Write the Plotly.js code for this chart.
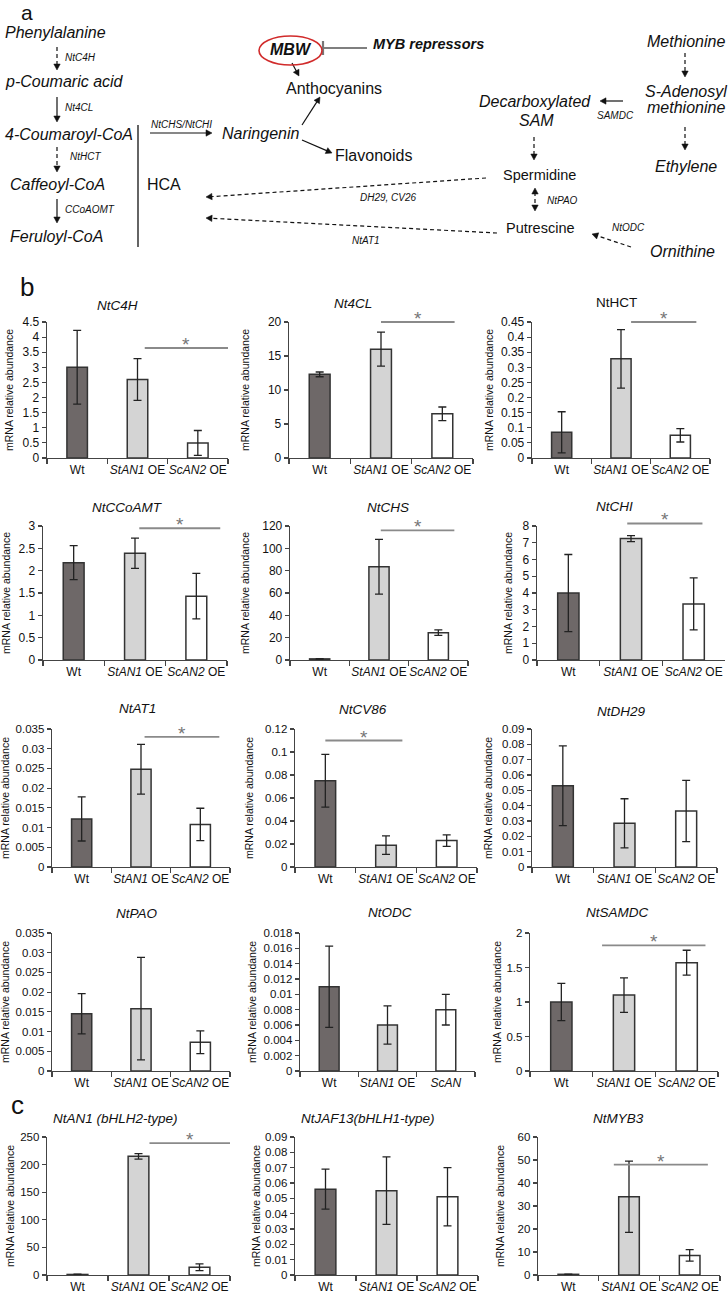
<!DOCTYPE html>
<html>
<head>
<meta charset="utf-8">
<script src="https://cdn.plot.ly/plotly-3.0.1.min.js"></script>
<style>html,body{margin:0;padding:0;background:#fff}</style>
</head>
<body>
<div id="chart" style="width:728px;height:1300px"></div>
<script>
// ---------- DATA ----------
const groups    = ['Wt', '<i>StAN1</i> OE', '<i>ScAN2</i> OE'];
const groupsODC = ['Wt', '<i>StAN1</i> OE', '<i>ScAN</i>'];

const genes = ['NtC4H','Nt4CL','NtHCT','NtCCoAMT','NtCHS','NtCHI','NtAT1','NtCV86','NtDH29',
               'NtPAO','NtODC','NtSAMDC','NtAN1 (bHLH2-type)','NtJAF13(bHLH1-type)','NtMYB3'];

const C4H_mean = [3.0, 2.6, 0.5],        C4H_err = [1.22, 0.69, 0.41];
const C4L_mean = [12.3, 16.0, 6.5],      C4L_err = [0.35, 2.5, 1.0];
const HCT_mean = [0.085, 0.328, 0.075],  HCT_err = [0.068, 0.097, 0.022];
const CCoAOMT_mean = [2.18, 2.39, 1.43], CCoAOMT_err = [0.38, 0.34, 0.51];
const CHS_mean = [1.0, 83.5, 24.5],      CHS_err = [0.3, 24.5, 2.5];
const CHI_mean = [4.0, 7.25, 3.35],      CHI_err = [2.3, 0.18, 1.55];
const AT1_mean = [0.0122, 0.0248, 0.0108], AT1_err = [0.0056, 0.0063, 0.0041];
const CV86_mean = [0.075, 0.019, 0.023], CV86_err = [0.023, 0.008, 0.005];
const DH29_mean = [0.053, 0.0285, 0.0365], DH29_err = [0.026, 0.016, 0.020];
const PAO_mean = [0.0145, 0.0158, 0.0073], PAO_err = [0.0051, 0.013, 0.0029];
const ODC_mean = [0.011, 0.006, 0.008],  ODC_err = [0.0053, 0.0025, 0.002];
const SAMDC_mean = [1.0, 1.1, 1.57],     SAMDC_err = [0.27, 0.25, 0.18];
const AN1_mean = [1.0, 215, 14],         AN1_err = [0.5, 5, 6];
const JAF13_mean = [0.056, 0.055, 0.051], JAF13_err = [0.013, 0.022, 0.019];
const MYB3_mean = [0.3, 34, 8.5],        MYB3_err = [0.1, 15.5, 2.5];

const allMeans = [C4H_mean,C4L_mean,HCT_mean,CCoAOMT_mean,CHS_mean,CHI_mean,AT1_mean,CV86_mean,DH29_mean,
                  PAO_mean,ODC_mean,SAMDC_mean,AN1_mean,JAF13_mean,MYB3_mean];
const allErrs  = [C4H_err,C4L_err,HCT_err,CCoAOMT_err,CHS_err,CHI_err,AT1_err,CV86_err,DH29_err,
                  PAO_err,ODC_err,SAMDC_err,AN1_err,JAF13_err,MYB3_err];

// axis scales (tick labels)
const yMax  = [4.5, 20, 0.45, 3, 120, 8, 0.035, 0.12, 0.09, 0.035, 0.018, 2, 250, 0.09, 60];
const yStep = [0.5, 5, 0.05, 0.5, 20, 1, 0.005, 0.02, 0.01, 0.005, 0.002, 0.5, 50, 0.01, 10];

// significance markers: chart index and bar level
const sigChart = [0, 1, 2, 3, 4, 5, 6, 7, 11, 12, 14];
const sigLevel = [3.64, 20, 0.45, 2.95, 116, 8.15, 0.033, 0.11, 1.82, 239, 48];

// ---------- LAYOUT HELPERS ----------
const W = 728, H = 1300;
const X = p => p / W, Y = p => 1 - p / H;
const FONT = 'Liberation Sans, Arial, sans-serif';

const rowsY = [[322,458],[526,660],[729,867],[933,1071],[1137,1275]];
const colsX = [
  [[47,228],[289,473],[532,710]],
  [[43,227],[290,468],[537,725]],
  [[52,230],[295,477],[532,717]],
  [[52,230],[300,475],[530,718]],
  [[47,230],[295,478],[538,720]]
];
const yTitleX = [9,245,489, 6,245,508, 5,249,488, 5,252,497, 10,256,500];
const titlePos = [[117,305],[353,303],[616,302],[127,507],[388,507],[614,506],[137,708],[363,709],[621,711],
                  [137,913],[390,912],[617,912],[115,1118],[368,1118],[618,1118]];
// significance line spans, in category units
const sigSpan = [[1.12,2.5],[1.0,2.2],[1.17,2.27],[1.07,2.39],[1.03,2.27],[0.94,2.14],[1.06,2.32],[0,1.27],
                 [0.65,2.3],[1.18,2.5],[0.75,2.3]];

const barColors = ['#6e6868', '#d4d4d4', '#ffffff'];

const data = [];
const layout = {
  width: W, height: H, margin: {l:0, r:0, t:0, b:0},
  paper_bgcolor: '#fff', plot_bgcolor: '#fff', showlegend: false,
  font: {family: FONT, color: '#111'},
  annotations: [], shapes: []
};

for (let i = 0; i < 15; i++) {
  const r = Math.floor(i / 3), c = i % 3;
  const id = i === 0 ? '' : String(i + 1);
  const cats = (i === 10) ? groupsODC : groups;
  const tickSize = r < 2 ? 12 : 11.5;
  data.push({
    type: 'bar', x: cats, y: allMeans[i], xaxis: 'x' + id, yaxis: 'y' + id,
    width: 0.34,
    marker: {color: barColors, line: {color: '#333', width: 1.5}},
    error_y: {type: 'data', array: allErrs[i], visible: true, color: '#222', thickness: 1.3, width: 4},
    hoverinfo: 'skip'
  });
  layout['xaxis' + id] = {
    domain: [X(colsX[r][c][0]), X(colsX[r][c][1])], anchor: 'y' + id,
    type: 'category', range: [-0.5, 2.5], tickson: 'boundaries', tickangle: 0,
    ticks: 'outside', ticklen: 5, tickcolor: '#444', tickwidth: 1.2,
    showline: true, linecolor: '#444', linewidth: 1.3, showgrid: false, zeroline: false,
    tickfont: {size: 12, family: FONT, color: '#111'}, fixedrange: true
  };
  layout['yaxis' + id] = {
    domain: [Y(rowsY[r][1]), Y(rowsY[r][0])], anchor: 'x' + id,
    range: [0, yMax[i]], tick0: 0, dtick: yStep[i],
    ticks: 'outside', ticklen: 4, tickcolor: '#444', tickwidth: 1.2,
    showline: true, linecolor: '#444', linewidth: 1.3, showgrid: false, zeroline: false,
    tickfont: {size: tickSize, family: FONT, color: '#111'}, fixedrange: true
  };
  layout.annotations.push({
    xref: 'paper', yref: 'paper', x: X(yTitleX[i]), y: Y((rowsY[r][0] + rowsY[r][1]) / 2),
    text: 'mRNA relative abundance', textangle: -90, showarrow: false,
    font: {size: 10.5, family: FONT, color: '#111'}, xanchor: 'center', yanchor: 'middle'
  });
  const ttl = (i === 2) ? genes[i] : '<i>' + genes[i] + '</i>';
  layout.annotations.push({
    xref: 'paper', yref: 'paper', x: X(titlePos[i][0]), y: Y(titlePos[i][1]),
    text: ttl, showarrow: false, font: {size: 13.5, family: FONT, color: '#111'},
    xanchor: 'center', yanchor: 'middle'
  });
}

// significance bars (axis-domain refs, so they are not clipped above the top tick)
sigChart.forEach((ci, k) => {
  const id = ci === 0 ? '' : String(ci + 1);
  const [a, b] = sigSpan[k];
  const fx = v => (v + 0.5) / 3;
  const fy = sigLevel[k] / yMax[ci];
  layout.shapes.push({type: 'line', xref: 'x' + id + ' domain', yref: 'y' + id + ' domain',
    x0: fx(a), x1: fx(b), y0: fy, y1: fy, line: {color: '#8a8a8a', width: 1.8}});
  layout.annotations.push({xref: 'x' + id + ' domain', yref: 'y' + id + ' domain', x: fx((a + b) / 2), y: fy,
    text: '*', showarrow: false, font: {size: 19, family: FONT, color: '#777'},
    xanchor: 'center', yanchor: 'bottom', yshift: -9});
});

// ---------- PANEL a (schematic) ----------
function T(text, x, y, size, style, anchor) {
  let t = text;
  if (style && style.indexOf('b') >= 0) t = '<b>' + t + '</b>';
  if (style && style.indexOf('i') >= 0) t = '<i>' + t + '</i>';
  layout.annotations.push({xref: 'paper', yref: 'paper', x: X(x), y: Y(y), text: t, showarrow: false,
    font: {size: size, family: FONT, color: '#111'}, xanchor: anchor || 'left', yanchor: 'middle'});
}
function head(x0, y0, x1, y1) {
  const dx = x1 - x0, dy = y1 - y0, L = Math.hypot(dx, dy), ux = dx / L, uy = dy / L;
  const hl = 6, hw = 3.2;
  const bx = x1 - ux * hl, by = y1 - uy * hl;
  const p1 = [bx - uy * hw, by + ux * hw], p2 = [bx + uy * hw, by - ux * hw];
  layout.shapes.push({type: 'path', xref: 'paper', yref: 'paper',
    path: `M ${X(x1)} ${Y(y1)} L ${X(p1[0])} ${Y(p1[1])} L ${X(p2[0])} ${Y(p2[1])} Z`,
    fillcolor: '#111', line: {color: '#111', width: 0.5}});
}
function arrow(x0, y0, x1, y1, dashed, both) {
  const dx = x1 - x0, dy = y1 - y0, L = Math.hypot(dx, dy), ux = dx / L, uy = dy / L;
  const sx = both ? x0 + ux * 4 : x0, sy = both ? y0 + uy * 4 : y0;
  layout.shapes.push({type: 'line', xref: 'paper', yref: 'paper',
    x0: X(sx), y0: Y(sy), x1: X(x1 - ux * 4), y1: Y(y1 - uy * 4),
    line: {color: '#111', width: 1.2, dash: dashed ? '4px,3px' : 'solid'}});
  head(x0, y0, x1, y1);
  if (both) head(x1, y1, x0, y0);
}
function line(x0, y0, x1, y1, color, width) {
  layout.shapes.push({type: 'line', xref: 'paper', yref: 'paper', x0: X(x0), y0: Y(y0), x1: X(x1), y1: Y(y1),
    line: {color: color || '#111', width: width || 1.2}});
}

T('a', 19, 12, 21, '');
T('Phenylalanine', 3, 33, 16, 'i');
T('NtC4H', 63, 57, 10, 'i');
T('p-Coumaric acid', 3, 82, 16, 'i');
T('Nt4CL', 63, 107, 10, 'i');
T('4-Coumaroyl-CoA', 3, 135, 16, 'i');
T('NtHCT', 68, 157, 10, 'i');
T('Caffeoyl-CoA', 8, 185, 16, 'i');
T('CCoAOMT', 63, 210, 10, 'i');
T('Feruloyl-CoA', 8, 237, 16, 'i');
T('HCA', 145, 185, 16, '');
T('NtCHS/NtCHI', 149, 125, 10, 'i');
T('Naringenin', 220, 133, 16, 'i');
T('Anthocyanins', 284, 88, 16, '');
T('Flavonoids', 333, 155, 16, '');
T('MBW', 291, 49, 16, 'bi', 'center');
T('MYB repressors', 371, 44, 14.5, 'bi');
T('Methionine', 645, 42, 16, 'i');
T('S-Adenosyl', 643, 91, 16, 'i');
T('methionine', 645, 108, 16, 'i');
T('Decarboxylated', 477, 101, 16, 'i');
T('SAM', 517, 120, 16, 'i');
T('SAMDC', 595, 115, 10, 'i');
T('Ethylene', 653, 167, 16, 'i');
T('Spermidine', 501, 175, 14.5, '');
T('NtPAO', 545, 200, 10, 'i');
T('Putrescine', 504, 228, 14.5, '');
T('NtODC', 610, 228, 10, 'i');
T('Ornithine', 648, 251, 16, 'i');
T('DH29, CV26', 358, 198, 10, 'i');
T('NtAT1', 350, 241, 10, 'i');
T('b', 18, 287, 26, '');
T('c', 9, 1105, 26, '');

arrow(57, 47, 57, 70, true);
arrow(57, 97, 57, 122, false);
arrow(57, 147, 57, 172, true);
arrow(57, 199, 57, 223, false);
arrow(150, 133, 212, 133, false);
arrow(302, 125, 320, 97, false);
arrow(302, 140, 332, 153, false);
arrow(292, 63, 299, 76, false);
arrow(685, 53, 685, 77, true);
arrow(685, 127, 685, 150, true);
arrow(623, 101, 600, 101, false);
arrow(534, 137, 534, 160, true);
arrow(535, 188, 535, 211, true, true);
arrow(631, 247, 592, 234, true);
arrow(486, 178, 206, 197, true);
arrow(497, 233, 206, 218, true);
line(138, 125, 138, 247, '#111', 1.3);
line(323, 48, 367, 48, '#555', 1.3);
line(323, 41, 323, 55, '#777', 2.2);
layout.shapes.push({type: 'circle', xref: 'paper', yref: 'paper',
  x0: X(259), x1: X(322), y0: Y(65), y1: Y(36), line: {color: '#d12b2b', width: 1.6}});

Plotly.newPlot('chart', data, layout, {staticPlot: true, displayModeBar: false});
</script>
</body>
</html>
